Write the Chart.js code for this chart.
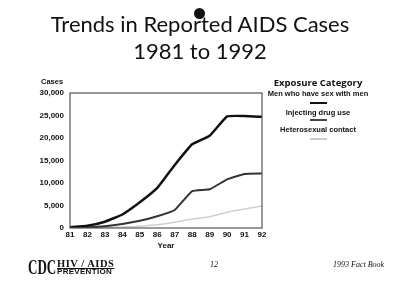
<!DOCTYPE html>
<html>
<head>
<meta charset="utf-8">
<script src="https://cdn.jsdelivr.net/npm/chart.js@4"></script>
<style>
  body { margin: 0; background: #fff; }
  #page { position: relative; width: 400px; height: 305px; overflow: hidden; background: #fff; font-family: "Open Sans", sans-serif; color: #111; }
  #chart { position: absolute; left: 0; top: 0; }
  .t { position: absolute; white-space: nowrap; }
  .c { position: absolute; left: 255px; width: 126px; text-align: center; white-space: nowrap; font-weight: bold; font-family: "Liberation Sans", sans-serif; font-size: 7.5px; line-height: 10px; }
  .sw { position: absolute; left: 310px; width: 17px; }
  #title { left: 0; width: 400px; top: 10px; text-align: center; font-size: 22px; line-height: 27px; font-family: Lato, sans-serif; }
  #dot { position: absolute; left: 194px; top: 8px; width: 11px; height: 11px; border-radius: 50%; background: #111; }
</style>
</head>
<body>
<div id="page">
  <canvas id="chart" width="400" height="305"></canvas>
  <div id="title" class="t">Trends in Reported AIDS Cases<br>1981 to 1992</div>
  <div id="dot"></div>
  <div class="t" style="left:41px;top:77px;font-size:7.5px;font-weight:bold;font-family:'Liberation Sans',sans-serif;">Cases</div>
  <div class="c" style="top:76px;font-size:9.5px;line-height:14px;font-family:'Open Sans',sans-serif;">Exposure Category</div>
  <div class="c" style="top:89px;">Men who have sex with men</div>
  <div class="sw" style="top:102px;border-top:2.5px solid #111"></div>
  <div class="c" style="top:108px;">Injecting drug use</div>
  <div class="sw" style="top:119px;border-top:2px solid #444"></div>
  <div class="c" style="top:125px;">Heterosexual contact</div>
  <div class="sw" style="top:138px;border-top:2px solid #ccc"></div>
  <div class="t" style="left:28px;top:256px;font-size:21px;font-weight:bold;font-family:'Liberation Serif',serif;line-height:22px;transform:scaleX(0.62);transform-origin:left top;">CDC</div>
  <div class="t" style="left:57px;top:258px;font-size:10.5px;line-height:11px;font-weight:bold;font-family:'Liberation Serif',serif;text-decoration:underline;letter-spacing:0.5px;">HIV / AIDS</div>
  <div class="t" style="left:57px;top:267px;font-size:8px;line-height:9px;font-weight:bold;font-family:'Liberation Sans',sans-serif;letter-spacing:0.3px;">PREVENTION</div>
  <div class="t" style="left:210px;top:260px;font-size:8px;font-style:italic;font-family:'Liberation Serif',serif;">12</div>
  <div class="t" style="left:333px;top:260px;font-size:8px;font-style:italic;font-family:'Liberation Serif',serif;">1993 Fact Book</div>
</div>
<script>
const years = ['81', '82', '83', '84', '85', '86', '87', '88', '89', '90', '91', '92'];
const menWithMen = [150, 500, 1400, 3000, 5700, 8900, 14000, 18600, 20500, 24800, 24900, 24700];
const drugUse = [50, 150, 400, 900, 1600, 2600, 4000, 8200, 8600, 10800, 12000, 12100];
const heterosexual = [0, 50, 100, 200, 400, 700, 1300, 2000, 2500, 3500, 4200, 4900];

// draw the box round the plot area
const boxPlugin = {
  id: 'box',
  afterDraw(chart) {
    const a = chart.chartArea;
    const ctx = chart.ctx;
    ctx.save();
    ctx.strokeStyle = '#555';
    ctx.lineWidth = 1.2;
    ctx.strokeRect(a.left, a.top, a.right - a.left, a.bottom - a.top);
    ctx.restore();
  }
};

const tickFont = { family: 'Liberation Sans', size: 8, weight: 'bold' };

new Chart(document.getElementById('chart').getContext('2d'), {
  type: 'line',
  data: {
    labels: years,
    datasets: [
      { label: 'Men who have sex with men', data: menWithMen, borderColor: '#111', borderWidth: 2.5 },
      { label: 'Injecting drug use', data: drugUse, borderColor: '#333', borderWidth: 2 },
      { label: 'Heterosexual contact', data: heterosexual, borderColor: '#cfcfcf', borderWidth: 1.5 }
    ]
  },
  options: {
    responsive: false,
    animation: false,
    events: [],
    elements: { point: { radius: 0 }, line: { tension: 0.1 } },
    layout: { padding: { left: 26, right: 138, top: 93, bottom: 54 } },
    plugins: { legend: { display: false }, tooltip: { enabled: false } },
    scales: {
      x: {
        offset: false,
        grid: { display: false, drawTicks: false, tickLength: 0 },
        border: { display: false },
        ticks: { color: '#111', font: tickFont, padding: 2, maxRotation: 0 },
        title: { display: true, text: 'Year', color: '#111', font: tickFont, padding: { top: 3, bottom: 0 } },
        afterFit(scale) { scale.height = 23; }
      },
      y: {
        min: 0,
        max: 30000,
        grid: { display: false, drawTicks: false, tickLength: 0 },
        border: { display: false },
        ticks: { stepSize: 5000, color: '#111', font: tickFont, padding: 6 },
        afterFit(scale) { scale.width = 44; }
      }
    }
  },
  plugins: [boxPlugin]
});
</script>
</body>
</html>
